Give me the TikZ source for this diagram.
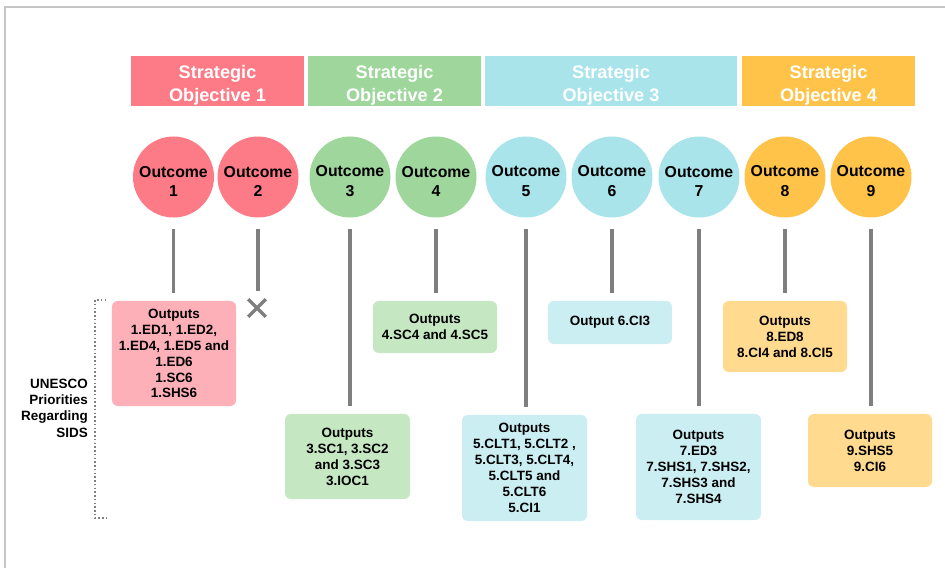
\documentclass[tikz,border=0pt]{standalone}
\usepackage{fontspec}
\setmainfont{Liberation Sans}
\usetikzlibrary{shapes.misc}
\definecolor{redA}{HTML}{FD7B87}
\definecolor{redB}{HTML}{FDB0B7}
\definecolor{greenA}{HTML}{9ED69B}
\definecolor{greenB}{HTML}{C5E8C3}
\definecolor{cyanA}{HTML}{A9E4EB}
\definecolor{cyanB}{HTML}{CAEEF2}
\definecolor{yellowA}{HTML}{FFC34A}
\definecolor{yellowB}{HTML}{FFDA8F}
\definecolor{linegray}{HTML}{7F7F7F}
\begin{document}
\begin{tikzpicture}[x=0.03cm,y=-0.03cm,
    objective/.style={minimum height=1.5cm,inner sep=0},
    objtext/.style={align=center,text=white,font=\fontsize{15.5}{19.5}\selectfont\bfseries},
    outcome/.style={circle,minimum size=2.43cm,inner sep=0},
    outctext/.style={align=center,font=\fontsize{13.5}{16.4}\selectfont\bfseries},
    outbox/.style={rounded corners=5pt,inner sep=0,align=center,font=\fontsize{11.5}{13.6}\selectfont\bfseries},
    link/.style={line width=3.4pt,draw=linegray,shorten <=9.8pt,shorten >=7pt}]
    \useasboundingbox (0,0) rectangle (945,568);
    \draw[gray!45,line width=1.7pt] (5,568) -- (5,7) -- (945,7);
    \foreach \i/\x/\w/\c in {1/217.5/5.19/redA, 2/394.5/5.19/greenA, 3/611/7.56/cyanA, 4/828.5/5.19/yellowA} {
        \node[objective,fill=\c,minimum width=\w cm] (so\i) at (\x,81) {};
        \node[objtext] (st\i) at ([yshift=-3.5pt]so\i.center) {Strategic\\Objective \i};
    }
    \foreach \i/\x/\c in {1/173.5/redA, 2/258/redA, 3/350/greenA, 4/436/greenA, 5/526/cyanA, 6/612/cyanA, 7/699/cyanA, 8/785/yellowA, 9/871/yellowA} {
        \node[outcome,fill=\c] (o\i) at (\x,177) {};
        \node[outctext] (ot\i) at ([yshift=-3.5pt]o\i.center) {Outcome\\\i};
    }
    \node[outbox,fill=redB,minimum width=3.72cm,minimum height=3.15cm] (b1) at (174,353.5) {Outputs\\1.ED1, 1.ED2,\\1.ED4, 1.ED5 and\\1.ED6\\1.SC6\\1.SHS6};
    \node[cross out,draw=linegray,line width=3pt,minimum size=0.42cm,inner sep=0] (x2) at (257,308) {};
    \node[outbox,fill=greenB,minimum width=3.75cm,minimum height=2.55cm] (b3) at (347.5,456.5) {Outputs\\3.SC1, 3.SC2\\and 3.SC3\\3.IOC1};
    \node[outbox,fill=greenB,minimum width=3.72cm,minimum height=1.56cm] (b4) at (435,327) {Outputs\\4.SC4 and 4.SC5};
    \node[outbox,fill=cyanB,minimum width=3.75cm,minimum height=3.18cm] (b5) at (524.5,468) {Outputs\\5.CLT1, 5.CLT2 ,\\5.CLT3, 5.CLT4,\\5.CLT5 and\\5.CLT6\\5.CI1};
    \node[outbox,fill=cyanB,minimum width=3.72cm,minimum height=1.29cm] (b6) at (610,322.5) {Output 6.CI3};
    \node[outbox,fill=cyanB,minimum width=3.75cm,minimum height=3.18cm] (b7) at (698.5,467) {Outputs\\7.ED3\\7.SHS1, 7.SHS2,\\7.SHS3 and\\7.SHS4};
    \node[outbox,fill=yellowB,minimum width=3.72cm,minimum height=2.13cm] (b8) at (785,336.5) {Outputs\\8.ED8\\8.CI4 and 8.CI5};
    \node[outbox,fill=yellowB,minimum width=3.72cm,minimum height=2.19cm] (b9) at (870,450.5) {Outputs\\9.SHS5\\9.CI6};
    \foreach \i in {1,3,4,5,6,7,8,9} {
        \draw[link] (o\i.south) -- (o\i.south |- b\i.north);
    }
    \draw[link] (o2.south) -- (o2.south |- x2.north);
    \node[align=right,anchor=east,inner sep=0,font=\fontsize{11.5}{13.9}\selectfont\bfseries] (sids) at (88,408) {UNESCO\\Priorities\\Regarding\\SIDS};
    \draw[dotted,line width=1.2pt,linegray] (106,300) -- (95,300) -- (95,518) -- (106,518);
\end{tikzpicture}
\end{document}
